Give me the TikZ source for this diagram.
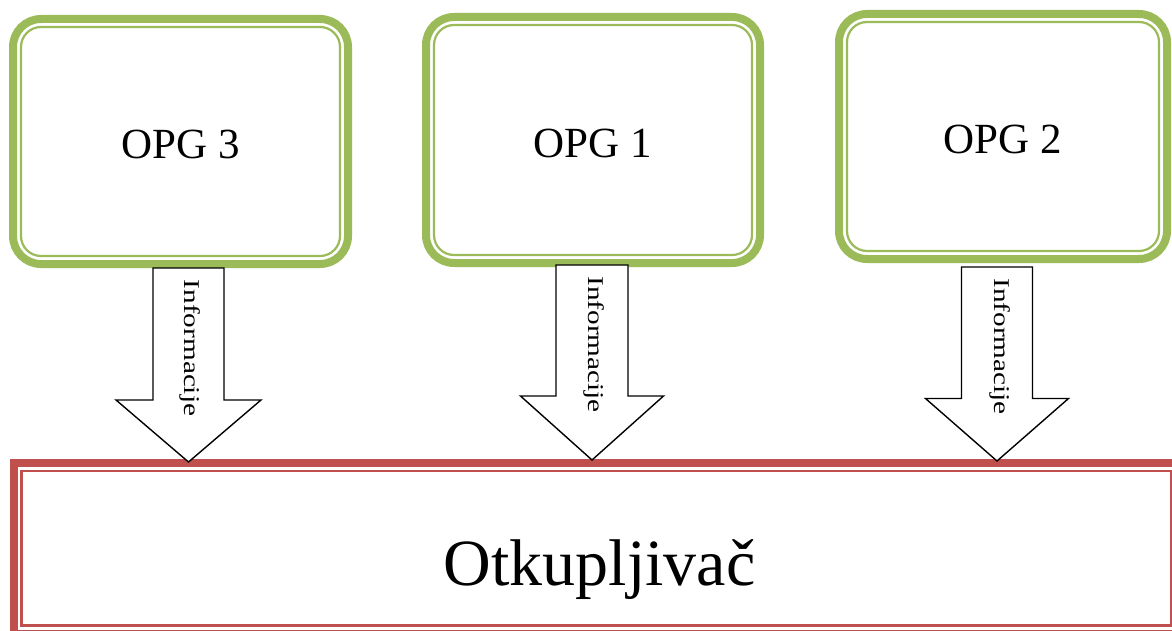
\documentclass[tikz,border=0pt]{standalone}
\usepackage{graphicx}
\usepackage{fontspec}
\setmainfont{Liberation Serif}
\usetikzlibrary{calc}
\definecolor{opggreen}{HTML}{9BBB59}
\definecolor{otkred}{HTML}{C0504D}
\begin{document}
\begin{tikzpicture}[x=1pt,y=-1pt,
  opgbox/.style={draw=opggreen, line width=8pt, rounded corners=28pt, fill=white,
    inner sep=0pt, text height=35pt, text depth=0pt, font=\fontsize{43}{50}\selectfont},
  opginner/.style={draw=opggreen, line width=2.2pt, rounded corners=20pt},
  otkbox/.style={draw=otkred, line width=8pt, inner sep=0pt, fill=white},
  otkinner/.style={draw=otkred, line width=2.5pt},
  otktext/.style={inner sep=0pt, font=\fontsize{66}{70}\selectfont},
  blockarrow/.style={draw=black, line width=1.4pt, fill=white, line join=miter},
  infolabel/.style={rotate=-90, inner sep=0pt, font=\fontsize{22.5}{26}\selectfont},
]
\useasboundingbox (0,0) rectangle (1172,631);
\clip (0,0) rectangle (1172,631);

% OPG boxes
\node[opgbox, minimum width=335pt, minimum height=245pt] (opg3) at (180.5,141.5) {OPG 3};
\node[opgbox, minimum width=334pt, minimum height=246pt] (opg1) at (593,140) {OPG 1};
\node[opgbox, minimum width=328pt, minimum height=245pt] (opg2) at (1003,136.5) {OPG 2};
\foreach \b in {opg3,opg1,opg2}
  \draw[opginner] ($(\b.north west)+(12,12)$) rectangle ($(\b.south east)+(-12,-12)$);

% Otkupljivac box
\node[otkbox, minimum width=1165.5pt, minimum height=170.5pt] (otk) at (596.25,548.25) {};
\draw[otkinner] ($(otk.north west)+(12,12)$) rectangle ($(otk.south east)+(-12,-12)$);
\node[otktext] (otklabel) at (599.5,570) {Otkupljivač};

% block arrows
\coordinate (a3top) at ($(opg3.south)+(8,0)$);
\coordinate (a3tip) at ($(a3top |- otk.north)+(0,3)$);
\coordinate (a1top) at ($(opg1.south)+(-1,-2)$);
\coordinate (a1tip) at ($(a1top |- otk.north)+(0,1)$);
\coordinate (a2top) at ($(opg2.south)+(-6,4)$);
\coordinate (a2tip) at ($(a2top |- otk.north)+(0,2)$);

\draw[blockarrow] ($(a3top)+(-35.5,0)$) -- ($(a3top)+(35.5,0)$) -- ($(a3top)+(35.5,132)$)
  -- ($(a3top)+(72.5,132)$) -- (a3tip) -- ($(a3top)+(-72.5,132)$) -- ($(a3top)+(-35.5,132)$) -- cycle;
\draw[blockarrow] ($(a1top)+(-36,0)$) -- ($(a1top)+(36,0)$) -- ($(a1top)+(36,131)$)
  -- ($(a1top)+(71.5,131)$) -- (a1tip) -- ($(a1top)+(-71.5,131)$) -- ($(a1top)+(-36,131)$) -- cycle;
\draw[blockarrow] ($(a2top)+(-35.5,0)$) -- ($(a2top)+(35.5,0)$) -- ($(a2top)+(35.5,131.5)$)
  -- ($(a2top)+(71.5,131.5)$) -- (a2tip) -- ($(a2top)+(-71.5,131.5)$) -- ($(a2top)+(-35.5,131.5)$) -- cycle;

\node[infolabel] (info3) at (190.5,348) {\scalebox{1.3}[1]{Informacije}};
\node[infolabel] (info1) at (594.5,344.5) {\scalebox{1.3}[1]{Informacije}};
\node[infolabel] (info2) at (1000,346.5) {\scalebox{1.3}[1]{Informacije}};
\end{tikzpicture}
\end{document}
